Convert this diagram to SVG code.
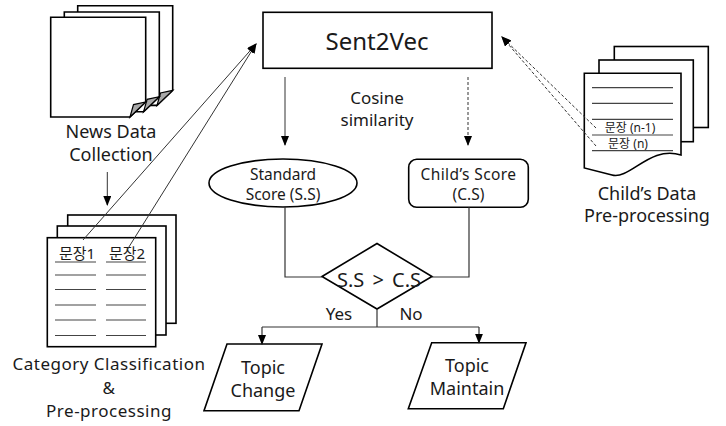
<svg xmlns="http://www.w3.org/2000/svg" width="726" height="426" viewBox="0 0 726 426">
<defs>
<marker id="ah" markerUnits="userSpaceOnUse" markerWidth="10" markerHeight="8" refX="9" refY="4" orient="auto">
<path d="M0,0 L10,4 L0,8 Z" fill="#000"/>
</marker>
<style>
text{font-family:"Noto Sans","Noto Sans CJK KR",sans-serif;fill:#1a1a1a;text-anchor:middle}
.shape{fill:#fff;stroke:#000;stroke-width:1.6}
.page{fill:#fff;stroke:#000;stroke-width:1.6}
.fold{fill:#a8a8a8;stroke:#000;stroke-width:1.2}
.rule{stroke:#444;stroke-width:1.2}
.conn{fill:none;stroke:#333;stroke-width:1.2}
.thin{fill:none;stroke:#333;stroke-width:1}
.dash{fill:none;stroke:#333;stroke-width:1;stroke-dasharray:3,2}
.t18{font-size:18px}
.t15{font-size:15.5px}
.cat{font-size:17px;letter-spacing:0.5px}
</style>
</defs>
<rect width="726" height="426" fill="#fff"/>

<g id="news-data">
<path class="page" d="M77.7,5.7 H172.7 V90.4 L157,105.4 H77.7 Z"/>
<path class="fold" d="M157,105.4 L160.5,93 L172.7,90.4 Z"/>
<path class="page" d="M64.3,12 H159.3 V96.7 L143.6,111.7 H64.3 Z"/>
<path class="fold" d="M143.6,111.7 L147.1,99.3 L159.3,96.7 Z"/>
<path class="page" d="M50.7,17.3 H145.7 V102 L130,117 H50.7 Z"/>
<path class="fold" d="M130,117 L133.5,104.6 L145.7,102 Z"/>
<text class="t18" x="111" y="138">News Data</text>
<text class="t18" x="111" y="161">Collection</text>
</g>

<g id="category">
<rect class="page" x="67.7" y="215" width="108.3" height="108.3"/>
<rect class="page" x="57.3" y="226" width="108.7" height="109"/>
<rect class="page" x="47.3" y="237.7" width="108.4" height="109"/>
<text x="77" y="259" font-size="15">문장1</text>
<text x="127" y="259" font-size="15">문장2</text>
<g class="rule">
<line x1="55" y1="262" x2="96" y2="262"/><line x1="106" y1="262" x2="146" y2="262"/>
<line x1="55" y1="275" x2="96" y2="275"/><line x1="106" y1="275" x2="146" y2="275"/>
<line x1="55" y1="289.5" x2="96" y2="289.5"/><line x1="106" y1="289.5" x2="146" y2="289.5"/>
<line x1="55" y1="305" x2="96" y2="305"/><line x1="106" y1="305" x2="146" y2="305"/>
<line x1="55" y1="320" x2="96" y2="320"/><line x1="106" y1="320" x2="146" y2="320"/>
<line x1="55" y1="335.5" x2="96" y2="335.5"/><line x1="106" y1="335.5" x2="146" y2="335.5"/>
</g>
<text class="cat" x="109" y="370">Category Classification</text>
<text class="cat" x="109" y="393.5">&amp;</text>
<text class="cat" x="109" y="417">Pre-processing</text>
</g>

<g id="sent2vec">
<rect class="shape" x="263" y="12.3" width="229" height="56" stroke-width="2"/>
<text x="377" y="50" font-size="24">Sent2Vec</text>
</g>

<g id="cosine-label">
<text x="377" y="104" font-size="17">Cosine</text>
<text x="377" y="126" font-size="17">similarity</text>
</g>

<g id="childs-data">
<rect class="page" x="614.3" y="46.5" width="94" height="81"/>
<rect class="page" x="599" y="60" width="94.3" height="81.7"/>
<path class="page" d="M584.3,73.3 H681 V155 C650,145 630,180 612,175 C600,172 592,170 584.3,168 Z"/>
<g class="rule">
<line x1="592" y1="87.7" x2="673" y2="87.7"/>
<line x1="592" y1="103.3" x2="673" y2="103.3"/>
<line x1="592" y1="119.3" x2="673" y2="119.3"/>
<line x1="592" y1="135" x2="673" y2="135"/>
<line x1="592" y1="150.7" x2="673" y2="150.7"/>
</g>
<text x="630" y="131.5" font-size="12">문장 (n-1)</text>
<text x="628" y="147.5" font-size="12">문장 (n)</text>
<text class="t18" x="647" y="200">Child’s Data</text>
<text class="t18" x="647" y="222">Pre-processing</text>
</g>

<g id="standard-score">
<ellipse class="shape" cx="283" cy="183" rx="74" ry="24"/>
<text class="t15" x="283" y="180">Standard</text>
<text class="t15" x="283" y="200">Score (S.S)</text>
</g>

<g id="childs-score">
<rect class="shape" x="408.7" y="159.3" width="119.6" height="48" rx="8"/>
<text class="t15" x="468.5" y="180" letter-spacing="0.4">Child’s Score</text>
<text class="t15" x="468.5" y="200">(C.S)</text>
</g>

<g id="decision">
<polygon class="shape" points="322,276.5 377,243.5 432,276.5 377,309"/>
<text x="379" y="287" font-size="20" word-spacing="3">S.S &gt; C.S</text>
</g>

<g id="topic-change">
<polygon class="shape" points="227,344 322,344 299,410.7 204,410.7"/>
<text class="t18" x="263" y="374">Topic</text>
<text class="t18" x="263" y="397">Change</text>
</g>

<g id="topic-maintain">
<polygon class="shape" points="431.7,342.7 526,342.7 503.3,408.7 408.3,408.7"/>
<text class="t18" x="467" y="372">Topic</text>
<text class="t18" x="467" y="395">Maintain</text>
</g>

<g id="connectors">
<line class="thin" x1="107.3" y1="172" x2="107.3" y2="205" marker-end="url(#ah)"/>
<line class="thin" x1="83" y1="240" x2="256" y2="44" marker-end="url(#ah)"/>
<line class="thin" x1="127" y1="250" x2="256" y2="44" marker-end="url(#ah)"/>
<line class="dash" x1="596" y1="128" x2="502" y2="37" marker-end="url(#ah)"/>
<line class="dash" x1="596" y1="146" x2="502" y2="37" marker-end="url(#ah)"/>
<line class="thin" x1="285" y1="77" x2="285" y2="145" marker-end="url(#ah)"/>
<line class="dash" x1="468" y1="77" x2="468" y2="145" marker-end="url(#ah)"/>
<polyline class="conn" points="285,207 285,277 322,277"/>
<polyline class="conn" points="469,207.3 469,277 432,277"/>
<line class="conn" x1="377" y1="309" x2="377" y2="327"/>
<line class="conn" x1="262" y1="327" x2="479" y2="327"/>
<line class="conn" x1="262" y1="327" x2="262" y2="344" marker-end="url(#ah)"/>
<line class="conn" x1="479" y1="327" x2="479" y2="342.7" marker-end="url(#ah)"/>
<text x="339" y="320" font-size="17">Yes</text>
<text x="411" y="320" font-size="17">No</text>
</g>
</svg>
